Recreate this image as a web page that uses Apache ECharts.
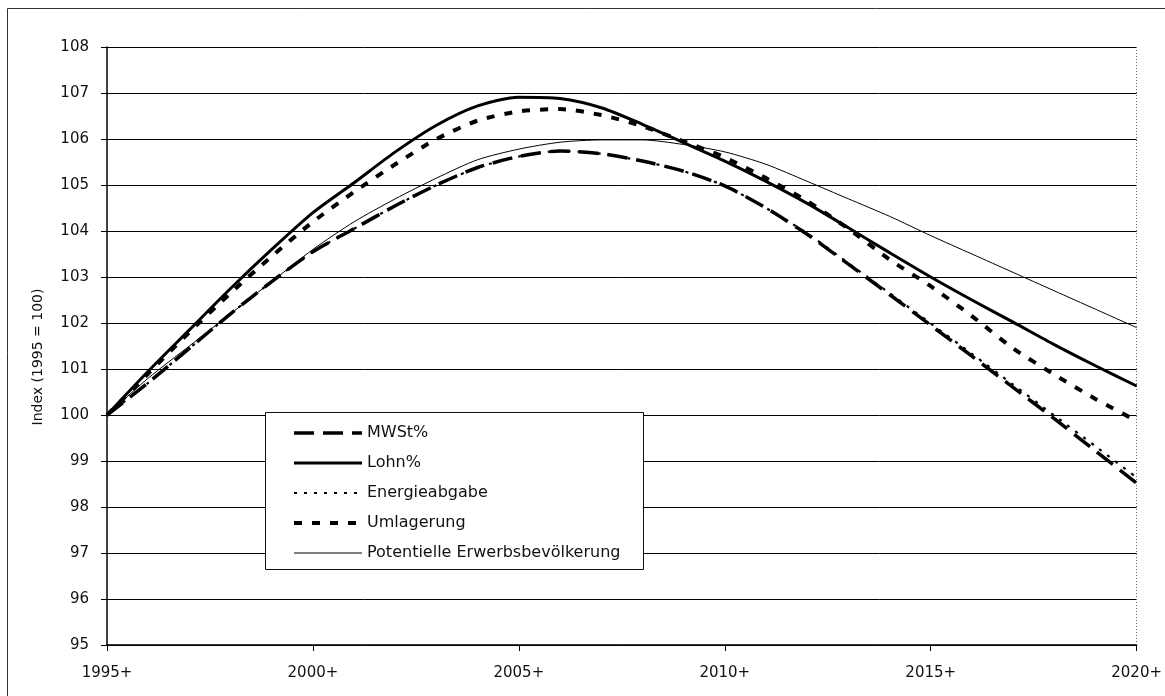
<!DOCTYPE html>
<html>
<head>
<meta charset="utf-8">
<script src="https://cdn.jsdelivr.net/npm/echarts@6/dist/echarts.min.js"></script>
<style>
  html, body { margin: 0; padding: 0; background: #fff; }
  #chart { width: 1165px; height: 696px; }
</style>
</head>
<body>
<div id="chart"></div>
<script>
const years = ['1995','1996','1997','1998','1999','2000','2001','2002','2003','2004','2005','2006','2007','2008','2009','2010','2011','2012','2013','2014','2015','2016','2017','2018','2019','2020'];
const yTicks = { min: 95, max: 108, interval: 1 };
const mwst = [100, 100.7, 101.45, 102.2, 102.9, 103.55, 104.05, 104.55, 105.0, 105.38, 105.62, 105.74, 105.68, 105.52, 105.3, 104.98, 104.5, 103.93, 103.28, 102.62, 101.95, 101.28, 100.6, 99.92, 99.22, 98.52];
const lohn = [100, 100.95, 101.85, 102.75, 103.6, 104.4, 105.05, 105.72, 106.3, 106.72, 106.91, 106.88, 106.68, 106.32, 105.92, 105.52, 105.08, 104.6, 104.07, 103.53, 103.0, 102.5, 102.02, 101.53, 101.07, 100.63];
const energie = [100, 100.7, 101.45, 102.2, 102.9, 103.55, 104.05, 104.55, 105.0, 105.38, 105.62, 105.74, 105.68, 105.52, 105.3, 104.98, 104.5, 103.95, 103.3, 102.65, 101.99, 101.33, 100.66, 99.99, 99.32, 98.64];
const umlagerung = [100, 100.9, 101.8, 102.65, 103.45, 104.2, 104.85, 105.45, 106.0, 106.4, 106.6, 106.65, 106.52, 106.28, 105.95, 105.6, 105.15, 104.65, 104.05, 103.38, 102.8, 102.15, 101.45, 100.88, 100.35, 99.87];
const potentielle = [100, 100.8, 101.5, 102.2, 102.9, 103.6, 104.2, 104.7, 105.15, 105.55, 105.78, 105.93, 105.98, 105.98, 105.88, 105.72, 105.45, 105.08, 104.7, 104.32, 103.9, 103.5, 103.1, 102.7, 102.3, 101.9];
const names = ['MWSt%', 'Lohn%', 'Energieabgabe', 'Umlagerung', 'Potentielle Erwerbsbevölkerung'];

const chart = echarts.init(document.getElementById('chart'), null, { renderer: 'canvas' });
const font = 'DejaVu Sans';
function line(name, data, width, type, z) {
  return {
    name, type: 'line', data, symbol: 'none', smooth: 0.25, z,
    lineStyle: { color: '#000', width, type, cap: 'butt' },
    itemStyle: { color: '#000' },
    emphasis: { disabled: true }
  };
}
const series = [
  line(names[4], potentielle, 1, 'solid', 2),
  line(names[0], mwst, 3.5, [20, 9], 3),
  line(names[2], energie, 2.2, [3, 7], 4),
  line(names[3], umlagerung, 4, [8, 10], 5),
  line(names[1], lohn, 3, 'solid', 6)
];
series[4].markLine = {
  silent: true, symbol: 'none', label: { show: false },
  lineStyle: { color: '#666', width: 1, type: [1, 2] },
  data: [{ xAxis: '2020' }]
};
chart.setOption({
  animation: false,
  backgroundColor: '#fff',
  textStyle: { fontFamily: font, color: '#111' },
  grid: { left: 107, right: 26, top: 47, bottom: 51, containLabel: false },
  graphic: [
    { type: 'rect', shape: { x: 7.5, y: 8.5, width: 1200, height: 720 }, style: { fill: 'none', stroke: '#333', lineWidth: 1 }, z: 0, silent: true },
    { type: 'rect', shape: { x: 265.5, y: 412.5, width: 378, height: 157 }, style: { fill: '#fff', stroke: '#111', lineWidth: 1 }, z: 50, silent: true }
  ],
  legend: {
    show: true, orient: 'vertical', left: 265, top: 413,
    padding: [12, 20, 10, 27],
    itemWidth: 68, itemHeight: 14, itemGap: 14,
    itemStyle: { opacity: 0, borderWidth: 0 },
    lineStyle: { width: 'inherit', type: 'inherit', color: '#000', opacity: 1 },
    data: names,
    z: 60,
    textStyle: { fontFamily: font, fontSize: 16, color: '#111', padding: [0, 0, 0, 0] },
    selectedMode: false
  },
  xAxis: {
    type: 'category', data: years, boundaryGap: false,
    axisLine: { lineStyle: { color: '#000', width: 1.5 } },
    axisTick: { show: true, interval: 4, length: 6, lineStyle: { color: '#000' } },
    axisLabel: { interval: 4, margin: 21, fontSize: 15, fontFamily: font, color: '#111', formatter: v => v + '+' },
    splitLine: { show: false }
  },
  yAxis: {
    type: 'value', min: yTicks.min, max: yTicks.max, interval: yTicks.interval,
    name: 'Index (1995 = 100)', nameLocation: 'middle', nameGap: 62,
    nameTextStyle: { fontFamily: font, fontSize: 14, color: '#111', padding: [0, 22, 0, 0] },
    axisLine: { show: true, lineStyle: { color: '#000', width: 1.5 } },
    axisTick: { show: true, length: 6, lineStyle: { color: '#000' } },
    axisLabel: { margin: 18, fontSize: 15, fontFamily: font, color: '#111' },
    splitLine: { show: true, lineStyle: { color: '#000', width: 1 } }
  },
  series
});
</script>
</body>
</html>
